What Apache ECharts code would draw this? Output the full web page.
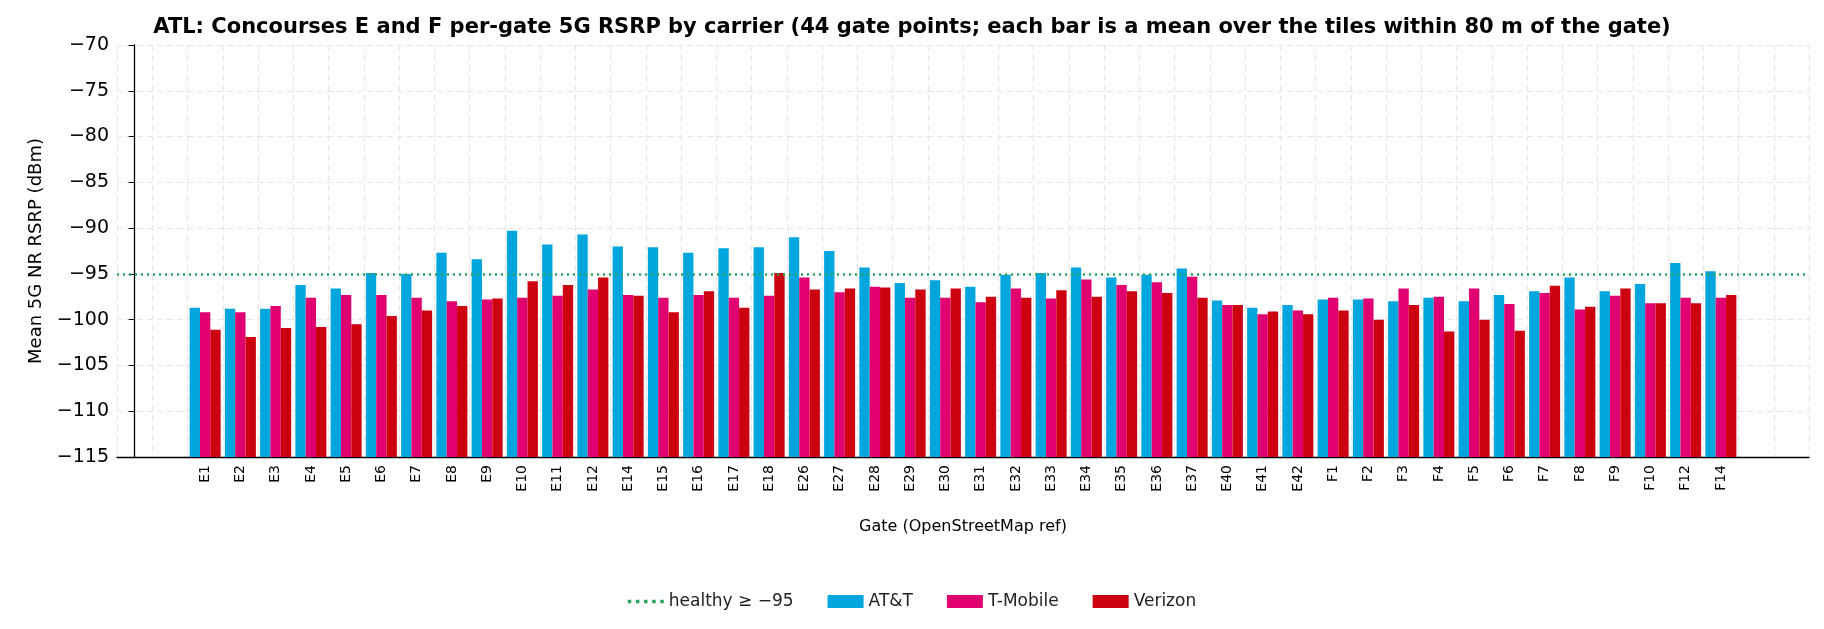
<!DOCTYPE html>
<html>
<head>
<meta charset="utf-8">
<script src="https://cdn.jsdelivr.net/npm/echarts@6/dist/echarts.min.js"></script>
<style>html,body{margin:0;padding:0;background:#fff}#chart{width:1824px;height:629px}</style>
</head>
<body>
<div id="chart"></div>
<script>
// gate labels
const gates = ['E1','E2','E3','E4','E5','E6','E7','E8','E9','E10','E11','E12','E14','E15','E16','E17','E18','E26','E27','E28','E29','E30','E31','E32','E33','E34','E35','E36','E37','E40','E41','E42','F1','F2','F3','F4','F5','F6','F7','F8','F9','F10','F12','F14'];
const att = [-98.7,-98.8,-98.8,-96.2,-96.6,-94.9,-95.0,-92.7,-93.4,-90.3,-91.8,-90.7,-92.0,-92.1,-92.7,-92.2,-92.1,-91.0,-92.5,-94.3,-96.0,-95.7,-96.4,-95.1,-94.9,-94.3,-95.4,-95.1,-94.4,-97.9,-98.7,-98.4,-97.8,-97.8,-98.0,-97.6,-98.0,-97.3,-96.9,-95.4,-96.9,-96.1,-93.8,-94.7];
const tmobile = [-99.2,-99.2,-98.5,-97.6,-97.3,-97.3,-97.6,-98.0,-97.8,-97.6,-97.4,-96.7,-97.3,-97.6,-97.3,-97.6,-97.4,-95.4,-97.0,-96.4,-97.6,-97.6,-98.1,-96.6,-97.7,-95.6,-96.2,-95.9,-95.3,-98.4,-99.4,-99.0,-97.6,-97.7,-96.6,-97.5,-96.6,-98.3,-97.1,-98.9,-97.4,-98.2,-97.6,-97.6];
const verizon = [-101.1,-101.9,-100.9,-100.8,-100.5,-99.6,-99.0,-98.5,-97.7,-95.8,-96.2,-95.4,-97.4,-99.2,-96.9,-98.7,-94.9,-96.7,-96.6,-96.5,-96.7,-96.6,-97.5,-97.6,-96.8,-97.5,-96.9,-97.1,-97.6,-98.4,-99.1,-99.4,-99.0,-100.0,-98.4,-101.3,-100.0,-101.2,-96.3,-98.6,-96.6,-98.2,-98.2,-97.3];
const healthy = -95;
const yMin = -115, yMax = -70;
const pad = 2; // empty categories either side of the gates

// bars grow from the bottom of the axis, so plot relative to yMin and relabel the axis
const cats = [...Array(pad).fill(''), ...gates, ...Array(pad).fill('')];
const padData = arr => [...Array(pad).fill('-'), ...arr.map(v => +(v - yMin).toFixed(2)), ...Array(pad).fill('-')];
const minus = v => String(Math.round(v + yMin)).replace('-', '\u2212');

const chart = echarts.init(document.getElementById('chart'));
chart.setOption({
  animation: false,
  textStyle: { fontFamily: 'DejaVu Sans' },
  title: {
    text: 'ATL: Concourses E and F per-gate 5G RSRP by carrier (44 gate points; each bar is a mean over the tiles within 80 m of the gate)',
    left: 'center', top: 12,
    textStyle: { fontSize: 21, fontWeight: 'bold', color: '#000' }
  },
  legend: {
    bottom: 14, left: 'center', itemGap: 34, itemWidth: 36, itemHeight: 13,
    textStyle: { fontSize: 17, color: '#222' },
    data: [
      { name: 'healthy \u2265 \u221295', icon: 'path://M0,5h3v3h-3zM7,5h3v3h-3zM14,5h3v3h-3zM21,5h3v3h-3zM28,5h3v3h-3z', itemStyle: { color: '#2ca25f' } },
      { name: 'AT&T', icon: 'rect' }, { name: 'T-Mobile', icon: 'rect' }, { name: 'Verizon', icon: 'rect' }
    ]
  },
  grid: { left: 117, right: 15, top: 45, bottom: 172 },
  xAxis: [{
    type: 'category', data: cats,
    name: 'Gate (OpenStreetMap ref)', nameLocation: 'middle', nameGap: 62,
    nameTextStyle: { fontSize: 16, color: '#000' },
    axisLine: { lineStyle: { color: '#000', width: 1.3 } },
    axisTick: { alignWithLabel: true, interval: (i, v) => v !== '', lineStyle: { color: '#000' } },
    axisLabel: { rotate: 90, fontSize: 14, color: '#000', interval: 0 },
    splitLine: { show: false }
  }, {
    type: 'value', min: -0.5, max: cats.length - 0.5, interval: 1,
    position: 'bottom',
    axisLine: { show: false }, axisTick: { show: false }, axisLabel: { show: false },
    splitLine: { show: true, lineStyle: { color: '#e6e6e6', type: [6, 4], width: 1.2 } }
  }],
  yAxis: {
    type: 'value', min: 0, max: yMax - yMin, interval: 5,
    name: 'Mean 5G NR RSRP (dBm)', nameLocation: 'middle', nameGap: 72,
    nameTextStyle: { fontSize: 18, color: '#000' },
    axisLine: { show: true, lineStyle: { color: '#000', width: 1.3 } },
    axisTick: { show: true, length: 6, lineStyle: { color: '#000' } },
    axisLabel: { fontSize: 19, color: '#000', formatter: minus },
    splitLine: { show: true, lineStyle: { color: '#e6e6e6', type: [6, 4], width: 1.2 } }
  },
  series: [
    {
      name: 'healthy \u2265 \u221295', type: 'line', data: [],
      itemStyle: { color: '#2ca25f' },
      markLine: {
        silent: true, symbol: 'none', label: { show: false },
        lineStyle: { color: '#2ca25f', type: [2, 4], width: 2.5 },
        data: [{ yAxis: healthy - yMin }]
      }
    },
    { name: 'AT&T', type: 'bar', data: padData(att), itemStyle: { color: '#00a6dd' }, barGap: '0%', barCategoryGap: '12%' },
    { name: 'T-Mobile', type: 'bar', data: padData(tmobile), itemStyle: { color: '#e0006f' } },
    { name: 'Verizon', type: 'bar', data: padData(verizon), itemStyle: { color: '#cd0010' } }
  ]
});
</script>
</body>
</html>
